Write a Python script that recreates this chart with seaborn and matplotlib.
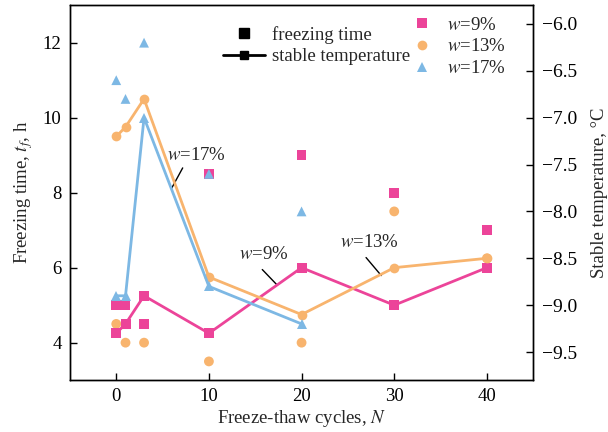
import numpy as np
import pandas as pd
import matplotlib
matplotlib.use("Agg")
import matplotlib.pyplot as plt
from matplotlib.lines import Line2D
import seaborn as sns

sns.set_style("ticks")
plt.rcParams['font.family'] = ['Liberation Serif', 'DejaVu Serif']
plt.rcParams['mathtext.fontset'] = 'stix'
plt.rcParams['axes.unicode_minus'] = True

# ---- data ----
groups = ['9%', '13%', '17%']
colors = {'9%': '#EC4499', '13%': '#F8B46E', '17%': '#7DB8E4'}
markers = {'9%': 's', '13%': 'o', '17%': '^'}

# freezing time (h), scatter
N_9 = [0, 1, 3, 10, 20, 30, 40]
t_9 = [5.0, 5.0, 4.5, 8.5, 9.0, 8.0, 7.0]
N_13 = [0, 1, 3, 10, 20, 30, 40]
t_13 = [4.5, 4.0, 4.0, 3.5, 4.0, 7.5, 6.25]
N_17 = [0, 1, 3, 10, 20]
t_17 = [11.0, 10.5, 12.0, 8.5, 7.5]

# stable temperature (°C), lines
T_9 = [-9.3, -9.2, -8.9, -9.3, -8.6, -9.0, -8.6]
T_13 = [-7.2, -7.1, -6.8, -8.7, -9.1, -8.6, -8.5]
T_17 = [-8.9, -8.9, -7.0, -8.8, -9.2]

sc = pd.concat([
    pd.DataFrame({'N': N_9, 't': t_9, 'w': '9%'}),
    pd.DataFrame({'N': N_13, 't': t_13, 'w': '13%'}),
    pd.DataFrame({'N': N_17, 't': t_17, 'w': '17%'}),
], ignore_index=True)
ln = pd.concat([
    pd.DataFrame({'N': N_9, 'T': T_9, 'w': '9%'}),
    pd.DataFrame({'N': N_13, 'T': T_13, 'w': '13%'}),
    pd.DataFrame({'N': N_17, 'T': T_17, 'w': '17%'}),
], ignore_index=True)

fig = plt.figure(figsize=(6.08, 4.32), dpi=100)
ax = fig.add_axes([0.115, 0.12, 0.762, 0.868])
ax2 = ax.twinx()

sns.scatterplot(data=sc, x='N', y='t', hue='w', style='w', hue_order=groups,
                style_order=groups, palette=colors, markers=markers, s=50,
                linewidth=0, ax=ax, legend=False)
sns.lineplot(data=ln, x='N', y='T', hue='w', style='w', hue_order=groups,
             style_order=groups, palette=colors, markers=markers, dashes=False,
             markersize=7, markeredgewidth=0, linewidth=2, sort=False,
             ax=ax2, legend=False)

ax.set_xlim(-5, 45)
ax.set_ylim(3, 13)
ax2.set_ylim(-9.8, -5.8)
ax.set_xticks([0, 10, 20, 30, 40])
ax.set_yticks([4, 6, 8, 10, 12])
rticks = [-9.5, -9.0, -8.5, -8.0, -7.5, -7.0, -6.5, -6.0]
ax2.set_yticks(rticks)
ax2.set_yticklabels([f"\u2212{abs(v):.1f}" for v in rticks])

fs = 13.5
ax.tick_params(direction='in', length=5, width=1, labelsize=fs, colors='black', pad=6)
ax2.tick_params(direction='in', length=5, width=1, labelsize=14, colors='black', pad=6)
for a in (ax, ax2):
    for s in a.spines.values():
        s.set_linewidth(1)
        s.set_color('black')
        s.set_visible(True)

ax.set_xlabel('Freeze-thaw cycles, $N$', fontsize=fs, labelpad=2)
ax.set_ylabel('Freezing time, $t_f$, h', fontsize=fs, labelpad=6)
ax2.set_ylabel('Stable temperature, °C', fontsize=fs, labelpad=10)

# annotations (left-axis data coords)
ann = [('$w$=17%', 8.7, 8.98, (7.17, 5.98), (8.66, 8.12)),
       ('$w$=9%', 15.9, 6.35, (15.76, 17.39), (5.95, 5.53)),
       ('$w$=13%', 27.3, 6.68, (26.96, 28.6), (6.27, 5.79))]
for txt, x, y, xs, ys in ann:
    ax.text(x, y, txt, fontsize=fs, ha='center', va='center', zorder=10)
    ax.plot(xs, ys, color='black', lw=1, zorder=10)

# legends
h1 = [Line2D([], [], ls='none', marker='s', color='black', markersize=7),
      Line2D([], [], ls='-', marker='s', color='black', markersize=6, lw=2)]
leg1 = ax2.legend(h1, ['freezing time', 'stable temperature'], loc='upper left',
                  bbox_to_anchor=(0.295, 0.99), frameon=False, fontsize=fs,
                  handlelength=2.2, handletextpad=0.4, labelspacing=0.25,
                  borderaxespad=0.5)
ax2.add_artist(leg1)
h2 = [Line2D([], [], ls='none', marker=markers[g], color=colors[g], markersize=7,
             markeredgewidth=0) for g in groups]
ax2.legend(h2, ['$w$=9%', '$w$=13%', '$w$=17%'], loc='upper right',
           bbox_to_anchor=(0.97, 1.005), frameon=False, fontsize=fs,
           handlelength=1.5, handletextpad=0.6, labelspacing=0.25,
           borderaxespad=0.3)

fig.savefig('out.png', dpi=100)
